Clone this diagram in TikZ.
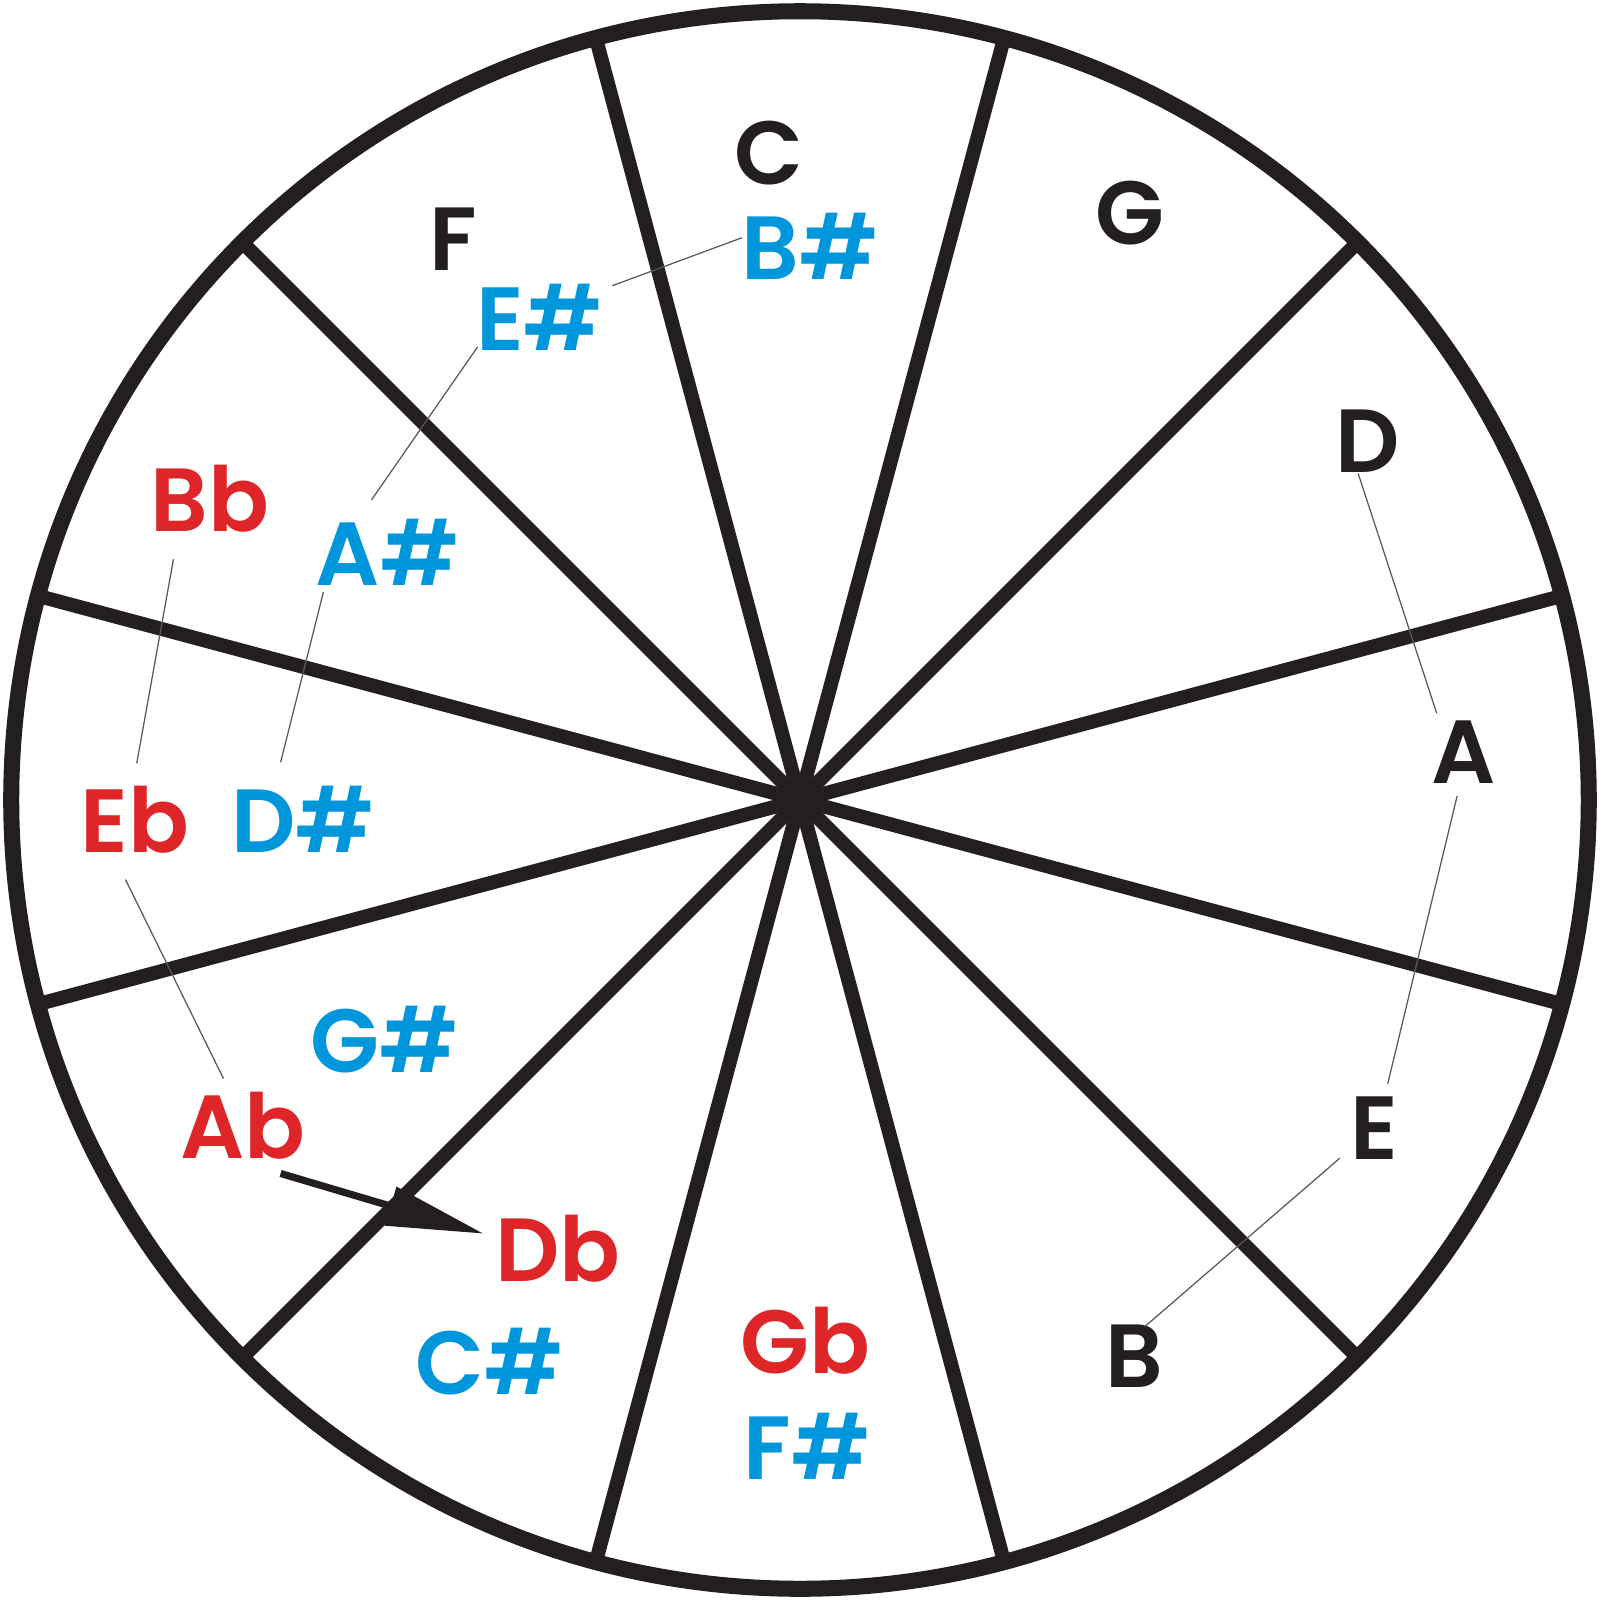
\documentclass[tikz,border=0pt]{standalone}
\usepackage{fontspec}
\setmainfont{Poppins}[UprightFont=* SemiBold]
\usetikzlibrary{arrows.meta,calc}
\definecolor{noteblack}{RGB}{35,31,32}
\definecolor{notered}{RGB}{222,38,40}
\definecolor{noteblue}{RGB}{0,150,220}
\tikzstyle{note}=[font=\fontsize{25}{25}\selectfont,text=noteblack,inner sep=0pt,anchor=base]
\tikzstyle{sharp note} = [note, text=noteblue]
\tikzstyle{flat note} = [note, text=notered]
\tikzstyle{rim} = [draw,line width=0.157cm,noteblack]
\tikzstyle{spoke} = [draw,line width=0.137cm,noteblack]
\tikzstyle{link} = [draw,line width=0.35pt,black!65]
\tikzstyle{move} = [draw,line width=0.07cm,noteblack,-{Triangle[length=0.95cm,width=0.38cm]}]

\begin{document}
\begin{tikzpicture}[x=0.01cm,y=-0.01cm]
    \useasboundingbox (0,0) rectangle (1568,1568);
    % Draw the wheel with its 12 sectors
    \coordinate (O) at (784,784);
    \path[rim] (O) circle (773);
    \foreach \a in {15,45,...,165}
        \path[spoke] ($(O)+(\a:773)$) -- ($(O)+(\a+180:773)$);

    % Then the notes
    \foreach \pos/\name in {{(754,181)/C}, {(1107,240)/G}, {(1340,463)/D}, {(1434,768)/A}, {(1347,1136)/E}, {(1112,1360)/B}, {(444,265)/F}}
        \node[note] (\name) at \pos {\name};
    \foreach \pos/\name/\text in {{(794,274)/Bs/B\#}, {(529,343)/Es/E\#}, {(380,574)/As/A\#}, {(297,835)/Ds/D\#}, {(377,1051)/Gs/G\#}, {(480,1367)/Cs/C\#}, {(791,1450)/Fs/F\#}}
        \node[sharp note] (\name) at \pos {\text};
    \foreach \pos/\name in {{(206,521)/Bb}, {(132,835)/Eb}, {(238,1135)/Ab}, {(547,1256)/Db}, {(789,1346)/Gb}}
        \node[flat note] (\name) at \pos {\name};

    % Connect the notes with thin lines
    \foreach \source/\sx/\sy/\dest/\dx/\dy in {D/-9/1/A/-26/-69, A/-6/12/E/13/-74, E/-34/-1/B/10/-60, Bs/-67/-41/Es/71/-63, Es/-61/-3/As/-16/-84, As/-63/6/Ds/-22/-88, Bb/-36/27/Eb/2/-87, Eb/-9/27/Ab/-19/-78}
        \path[link] ($(\source.base)+(\sx,\sy)$) -- ($(\dest.base)+(\dx,\dy)$);
    \path[move] ($(Ab.base)+(37,15)$) -- ($(Db.base)+(-73,-47)$);
\end{tikzpicture}
\end{document}
